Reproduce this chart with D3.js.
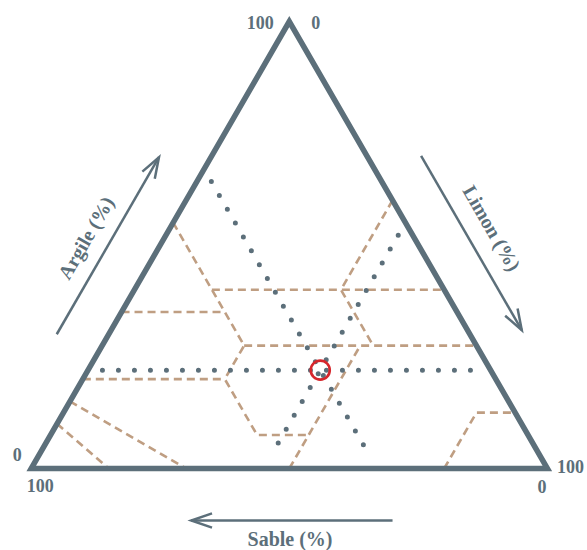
<!DOCTYPE html>
<html>
<head>
<meta charset="utf-8">
<script src="https://cdn.jsdelivr.net/npm/d3@7"></script>
<style>
  body { margin: 0; background: #fff; }
  text { font-family: "Liberation Serif", "Times New Roman", serif; }
</style>
</head>
<body>
<div id="chart"></div>
<script>
// texture triangle : argile / limon / sable (all in %)
const axisTitles = ["Argile (%)", "Limon (%)", "Sable (%)"];
const topTicks = ["100", "0"];     // argile 100 | limon 0
const leftTicks = ["0", "100"];    // argile 0 | sable 100
const rightTicks = ["100", "0"];   // limon 100 | sable 0

// the sample, [argile, limon, sable]
const sample = [22, 45, 33];

// class limits, every vertex is [argile, limon, sable]
const limits = [
  [[55, 0, 45], [40, 15, 45], [27.5, 27.5, 45], [20, 27.5, 52.5], [7.5, 40, 52.5], [7.5, 50, 42.5]],
  [[40, 15, 45], [40, 60, 0]],
  [[35, 0, 65], [35, 20, 45]],
  [[27.5, 27.5, 45], [27.5, 72.5, 0]],
  [[20, 0, 80], [20, 27.5, 52.5]],
  [[0, 50, 50], [27.5, 50, 22.5]],
  [[60, 40, 0], [40, 40, 20], [27.5, 52.5, 20]],
  [[0, 80, 20], [12.5, 80, 7.5], [12.5, 87.5, 0]],
  [[15, 0, 85], [0, 30, 70]],
  [[10, 0, 90], [0, 15, 85]]
];

const width = 587, height = 550;
const ink = "#5c6f7a", tan = "#bf9e82", red = "#d6262c";

const yScale = d3.scaleLinear().domain([0, 100]).range([468.5, 21.5]);
const xScale = d3.scaleLinear().domain([0, 100]).range([31.2, 547.4]);
const px = d => [xScale(d[1] + d[0] / 2), yScale(d[0])];
const line = d3.line().x(d => px(d)[0]).y(d => px(d)[1]);

const svg = d3.select("#chart").append("svg")
  .attr("width", width)
  .attr("height", height);

const apex = px([100, 0, 0]), bl = px([0, 0, 100]), br = px([0, 100, 0]);

// class limits
svg.append("g").selectAll("path")
  .data(limits)
  .enter()
  .append("path")
  .attr("d", line)
  .attr("fill", "none")
  .attr("stroke", tan)
  .attr("stroke-width", 2.6)
  .attr("stroke-dasharray", "8 5");

// reading lines through the sample
const inset = 2.8;
const [a, l, s] = sample;
const guides = [
  [[a, inset, 100 - a - inset], [a, 100 - a - inset, inset]],
  [[100 - s - inset, inset, s], [inset, 100 - s - inset, s]],
  [[100 - l - inset, l, inset], [inset, l, 100 - l - inset]]
];
svg.append("g").selectAll("path")
  .data(guides)
  .enter()
  .append("path")
  .attr("d", line)
  .attr("fill", "none")
  .attr("stroke", ink)
  .attr("stroke-width", 5)
  .attr("stroke-linecap", "round")
  .attr("stroke-dasharray", "0 16");

// triangle
svg.append("path")
  .attr("d", line([[100, 0, 0], [0, 0, 100], [0, 100, 0]]) + "Z")
  .attr("fill", "none")
  .attr("stroke", ink)
  .attr("stroke-width", 5.5)
  .attr("stroke-linejoin", "miter");

// sample marker
svg.append("circle")
  .attr("cx", px(sample)[0])
  .attr("cy", px(sample)[1])
  .attr("r", 9.5)
  .attr("fill", "none")
  .attr("stroke", red)
  .attr("stroke-width", 2.6);

// point on a side (p0 -> p1) at fraction t, pushed out by off along normal n
function sidePt(p0, p1, t, n, off) {
  return [p0[0] + (p1[0] - p0[0]) * t + n[0] * off, p0[1] + (p1[1] - p0[1]) * t + n[1] * off];
}
const nLeft = [-0.866, -0.5], nRight = [0.866, -0.5], nBottom = [0, 1];

const arrows = [
  {from: sidePt(bl, apex, 0.25, nLeft, 45), to: sidePt(bl, apex, 0.646, nLeft, 45)},
  {from: sidePt(apex, br, 0.353, nRight, 47), to: sidePt(apex, br, 0.743, nRight, 47)},
  {from: sidePt(br, bl, 0.30, nBottom, 52), to: sidePt(br, bl, 0.69, nBottom, 52)}
];
const arrowG = svg.append("g")
  .attr("stroke", ink)
  .attr("stroke-width", 2.5)
  .attr("fill", "none");
arrows.forEach(ar => {
  arrowG.append("line")
    .attr("x1", ar.from[0]).attr("y1", ar.from[1])
    .attr("x2", ar.to[0]).attr("y2", ar.to[1]);
  let ang = Math.atan2(ar.from[1] - ar.to[1], ar.from[0] - ar.to[0]);
  let len = 22, spread = 19 * Math.PI / 180;
  let h1 = [ar.to[0] + len * Math.cos(ang + spread), ar.to[1] + len * Math.sin(ang + spread)];
  let h2 = [ar.to[0] + len * Math.cos(ang - spread), ar.to[1] + len * Math.sin(ang - spread)];
  arrowG.append("path")
    .attr("d", "M" + h1 + "L" + ar.to + "L" + h2)
    .attr("stroke-linejoin", "miter");
});

// axis titles
const titles = [
  {text: axisTitles[0], p: sidePt(bl, apex, 0.44, nLeft, 68), rot: -60},
  {text: axisTitles[1], p: sidePt(apex, br, 0.543, nRight, 72), rot: 60},
  {text: axisTitles[2], p: sidePt(br, bl, 0.4986, nBottom, 70.5), rot: 0}
];
svg.append("g").selectAll("text")
  .data(titles)
  .enter()
  .append("text")
  .attr("transform", d => "translate(" + d.p + ") rotate(" + d.rot + ")")
  .attr("text-anchor", "middle")
  .attr("dy", "0.35em")
  .attr("fill", ink)
  .attr("font-size", 20)
  .attr("font-weight", "bold")
  .text(d => d.text);

// corner values
const cornerLabels = [
  {text: topTicks[0], x: apex[0] - 29, y: apex[1] + 7.5},
  {text: topTicks[1], x: apex[0] + 26.5, y: apex[1] + 7.5},
  {text: leftTicks[0], x: bl[0] - 14, y: bl[1] - 8},
  {text: leftTicks[1], x: bl[0] + 9, y: bl[1] + 23.5},
  {text: rightTicks[0], x: br[0] + 23, y: br[1] + 4.5},
  {text: rightTicks[1], x: br[0] - 5.5, y: br[1] + 24}
];
svg.append("g").selectAll("text")
  .data(cornerLabels)
  .enter()
  .append("text")
  .attr("x", d => d.x)
  .attr("y", d => d.y)
  .attr("text-anchor", "middle")
  .attr("fill", ink)
  .attr("font-size", 18)
  .attr("font-weight", "bold")
  .text(d => d.text);
</script>
</body>
</html>
